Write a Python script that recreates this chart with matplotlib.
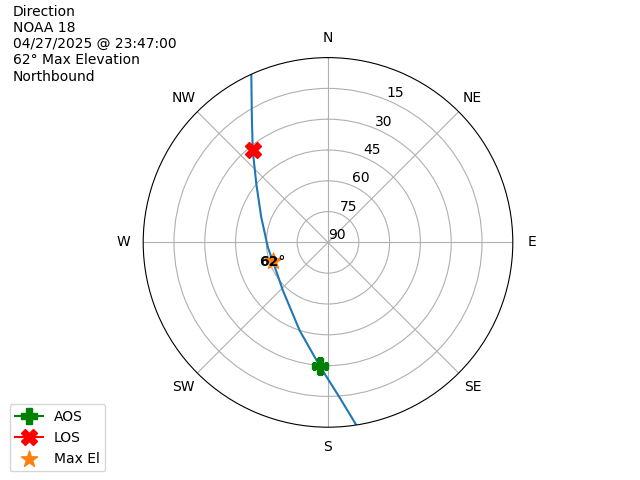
import numpy as np
import matplotlib
matplotlib.use('Agg')
import matplotlib.pyplot as plt

# pass track, azimuth (deg from N, clockwise) and elevation (deg)
track_az = [335.4, 328.8, 320.8, 309.5, 290.8, 265.5, 251.0, 223.2, 197.8, 183.9, 175.7, 171.3]
track_el = [0.3, 18.4, 32.0, 44.7, 55.2, 60.6, 61.6, 57.9, 44.9, 29.8, 14.2, 0.4]

aos_az, aos_el = 183.9, 29.8
los_az, los_el = 320.8, 32.0
max_az, max_el = 251.0, 61.6

title_lines = ['Direction', 'NOAA 18', '04/27/2025 @ 23:47:00', '62° Max Elevation', 'Northbound']
compass = ['N', 'NE', 'E', 'SE', 'S', 'SW', 'W', 'NW']
elev_ticks = [90, 75, 60, 45, 30, 15]


def zen(el):
    return 90 - np.asarray(el)


fig = plt.figure(figsize=(6.4, 4.8), dpi=100)
ax = fig.add_subplot(111, projection='polar')
ax.set_theta_zero_location('N')
ax.set_theta_direction(-1)

ax.plot(np.radians(track_az), zen(track_el), color='C0')
ax.plot(np.radians(aos_az), zen(aos_el), '-P', color='green', markersize=12, label='AOS')
ax.plot(np.radians(los_az), zen(los_el), '-X', color='red', markersize=12, label='LOS')
ax.scatter(np.radians(max_az), zen(max_el), marker='*', color='C1', s=150, label='Max El', zorder=3)
ax.text(np.radians(max_az), zen(max_el) + 0.5, '{:.0f}°'.format(round(max_el)), fontweight='bold',
        ha='center', va='center', zorder=4)

ax.set_ylim(0, 90)
ax.set_yticks(zen(elev_ticks))
ax.set_yticklabels([str(e) for e in elev_ticks])
ax.set_xticks(np.radians(np.arange(0, 360, 45)))
ax.set_xticklabels(compass)

fig.text(0.02, 0.99, '\n'.join(title_lines), ha='left', va='top', fontsize=10)
ax.legend(loc='lower left', bbox_to_anchor=(0.015, 0.018), bbox_transform=fig.transFigure,
          borderaxespad=0)

fig.savefig('out.png', dpi=100)
